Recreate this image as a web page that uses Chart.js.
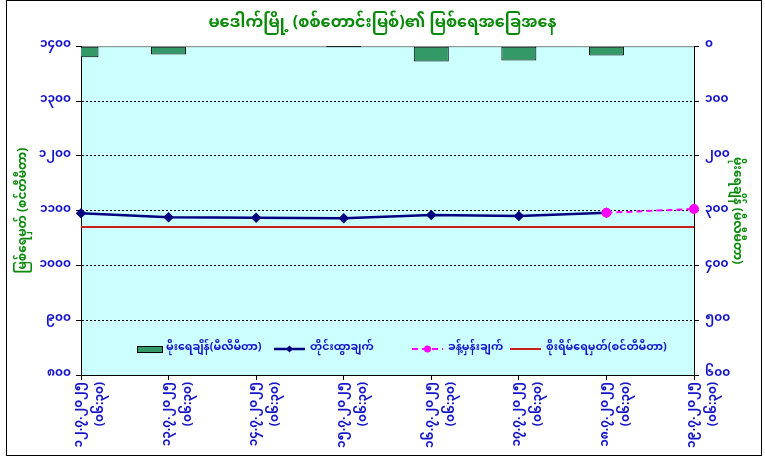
<!DOCTYPE html>
<html>
<head>
<meta charset="utf-8">
<script src="https://cdn.jsdelivr.net/npm/chart.js@4/dist/chart.umd.min.js"></script>
<style>
    html, body { margin: 0; padding: 0; background: #ffffff; }
    #wrap { position: relative; width: 765px; height: 462px; }
</style>
</head>
<body>
<div id="wrap"><canvas id="river_chart" width="765" height="462"></canvas></div>
<script>
// Dates of reading (day.month.year) and reading time
const dates = ["၁၂.၇.၂၀၂၅", "၁၃.၇.၂၀၂၅", "၁၄.၇.၂၀၂၅", "၁၅.၇.၂၀၂၅",
               "၁၆.၇.၂၀၂၅", "၁၇.၇.၂၀၂၅", "၁၈.၇.၂၀၂၅", "၁၉.၇.၂၀၂၅"];
const readTime = "(၀၆:၃၀)";

// Series (cm for water level, mm for rain)
const rainfall = [20, 15, null, 0, 28, 26, 17, null];
const measured = [1095, 1088, 1087, 1086, 1092, 1090, 1096, null];
const forecast = [null, null, null, null, null, null, 1096, 1103];
const dangerLevel = [1070, 1070, 1070, 1070, 1070, 1070, 1070, 1070];

const seriesNames = ["မိုးရေချိန်(မီလီမီတာ)", "တိုင်းထွာချက်", "ခန့်မှန်းချက်", "စိုးရိမ်ရေမှတ်(စင်တီမီတာ)"];
const chartTitle = "မဒေါက်မြို့ (စစ်တောင်းမြစ်)၏ မြစ်ရေအခြေအနေ";
const leftTitle = "မြစ်ရေမှတ် (စင်တီမီတာ)";
const rightTitle = "မိုးရေချိန် (မီလီမီတာ)";

const FONT = "'Noto Sans Myanmar', 'Padauk', 'Myanmar Text', 'Noto Sans', 'DejaVu Sans', sans-serif";
const tickBlue = "#1414c8";
const titleGreen = "#0a8a0a";

// legend item start positions (x, px) inside the plot
const legendStarts = [137, 274, 412, 510];

// western digits -> Myanmar digits
function toMyanmar(n) {
    const digits = "၀၁၂၃၄၅၆၇၈၉";
    return String(n).replace(/[0-9]/g, d => digits[+d]);
}

const labels = dates.map(d => [d, readTime]);

// light cyan plot area + grey top edge
const plotBackground = {
    id: "plotBackground",
    beforeDraw(chart) {
        const { ctx, chartArea: a } = chart;
        ctx.save();
        ctx.fillStyle = "#ccffff";
        ctx.fillRect(a.left, a.top, a.right - a.left, a.bottom - a.top);
        ctx.strokeStyle = "#808080";
        ctx.lineWidth = 1;
        ctx.beginPath();
        ctx.moveTo(a.left, a.top + 0.5);
        ctx.lineTo(a.right, a.top + 0.5);
        ctx.stroke();
        ctx.restore();
    }
};

// legend drawn inside the plot, like the Excel one
const insideLegend = {
    id: "insideLegend",
    afterDraw(chart) {
        const { ctx, chartArea: a } = chart;
        const ds = chart.data.datasets;
        const y = a.bottom - 26;
        ctx.save();
        ctx.font = "bold 11px " + FONT;
        ctx.textBaseline = "middle";
        ds.forEach((d, i) => {
            let x = legendStarts[i];
            if (d.type === "bar") {
                ctx.fillStyle = d.backgroundColor;
                ctx.fillRect(x, y - 3, 26, 7);
                ctx.strokeStyle = "#000";
                ctx.lineWidth = 1;
                ctx.strokeRect(x + 0.5, y - 2.5, 25, 6);
                x += 29;
            } else {
                ctx.strokeStyle = d.borderColor;
                ctx.lineWidth = d.borderWidth;
                ctx.setLineDash(d.borderDash || []);
                ctx.beginPath();
                ctx.moveTo(x, y);
                ctx.lineTo(x + 31, y);
                ctx.stroke();
                ctx.setLineDash([]);
                if (d.pointRadius > 0) {
                    ctx.fillStyle = d.borderColor;
                    ctx.beginPath();
                    if (d.pointStyle === "rectRot") {
                        ctx.moveTo(x + 15.5, y - 3.5);
                        ctx.lineTo(x + 19, y);
                        ctx.lineTo(x + 15.5, y + 3.5);
                        ctx.lineTo(x + 12, y);
                    } else {
                        ctx.arc(x + 15.5, y, 3.5, 0, Math.PI * 2);
                    }
                    ctx.fill();
                }
                x += 36;
            }
            ctx.fillStyle = tickBlue;
            ctx.fillText(d.label, x, y);
        });
        ctx.restore();
    }
};

// outer chart frame
const chartFrame = {
    id: "chartFrame",
    afterDraw(chart) {
        const ctx = chart.ctx;
        ctx.save();
        ctx.strokeStyle = "#000";
        ctx.lineWidth = 1;
        ctx.strokeRect(6.5, 0.5, 755, 455);
        ctx.restore();
    }
};

function drawRiverChart() {
    const ctx = document.getElementById("river_chart").getContext("2d");
    new Chart(ctx, {
        type: "bar",
        data: {
            labels: labels,
            datasets: [
                {
                    type: "bar",
                    label: seriesNames[0],
                    data: rainfall,
                    yAxisID: "y1",
                    backgroundColor: "#339966",
                    borderColor: "#000000",
                    borderWidth: 1,
                    borderSkipped: false,
                    barPercentage: 0.4,
                    categoryPercentage: 1.0,
                    minBarLength: 2,
                    order: 3
                },
                {
                    type: "line",
                    label: seriesNames[1],
                    data: measured,
                    yAxisID: "y",
                    borderColor: "#000080",
                    backgroundColor: "#000080",
                    borderWidth: 2.5,
                    pointStyle: "rectRot",
                    pointRadius: 3.5,
                    tension: 0,
                    order: 1
                },
                {
                    type: "line",
                    label: seriesNames[2],
                    data: forecast,
                    yAxisID: "y",
                    borderColor: "#ff00ff",
                    backgroundColor: "#ff00ff",
                    borderWidth: 2,
                    borderDash: [6, 4],
                    pointStyle: "circle",
                    pointRadius: 4,
                    order: 0
                },
                {
                    type: "line",
                    label: seriesNames[3],
                    data: dangerLevel,
                    yAxisID: "y",
                    borderColor: "#cc2020",
                    borderWidth: 2,
                    pointRadius: 0,
                    order: 2
                }
            ]
        },
        options: {
            responsive: false,
            animation: false,
            layout: { padding: 0 },
            plugins: {
                legend: { display: false },
                tooltip: { enabled: false },
                title: {
                    display: true,
                    text: chartTitle,
                    color: titleGreen,
                    font: { family: FONT, size: 16, weight: "bold" },
                    padding: { top: 16, bottom: 11 }
                }
            },
            scales: {
                x: {
                    offset: false,
                    grid: { offset: false, drawOnChartArea: false, drawTicks: true, tickLength: 5, tickColor: "#000" },
                    border: { display: true, color: "#000", width: 1 },
                    ticks: {
                        color: tickBlue,
                        font: { family: FONT, size: 12, weight: "bold", lineHeight: 1.75 },
                        maxRotation: 90,
                        minRotation: 90,
                        autoSkip: false,
                        padding: 2
                    },
                    afterFit: s => { s.height = 87; }
                },
                y: {
                    position: "left",
                    min: 800,
                    max: 1400,
                    ticks: {
                        stepSize: 100,
                        color: tickBlue,
                        font: { family: FONT, size: 12, weight: "bold" },
                        padding: 5,
                        callback: v => toMyanmar(v)
                    },
                    grid: {
                        color: c => (c.tick && (c.tick.value === 1400 || c.tick.value === 800)) ? "rgba(0,0,0,0)" : "#000",
                        tickColor: "#000",
                        tickLength: 5,
                        lineWidth: 1
                    },
                    border: { display: true, color: "#000", width: 1, dash: [2, 2] },
                    title: {
                        display: true,
                        text: leftTitle,
                        color: titleGreen,
                        font: { family: FONT, size: 12, weight: "bold" },
                        padding: { top: 18, bottom: 0 }
                    },
                    afterFit: s => { s.width = 81; }
                },
                y1: {
                    position: "right",
                    min: 0,
                    max: 600,
                    reverse: true,
                    ticks: {
                        stepSize: 100,
                        color: tickBlue,
                        font: { family: FONT, size: 12, weight: "bold" },
                        padding: 6,
                        callback: v => toMyanmar(v)
                    },
                    grid: { drawOnChartArea: false, tickColor: "#000", tickLength: 5 },
                    border: { display: true, color: "#000", width: 1 },
                    title: {
                        display: true,
                        text: rightTitle,
                        color: titleGreen,
                        font: { family: FONT, size: 12, weight: "bold" },
                        padding: { top: 23, bottom: 0 }
                    },
                    afterFit: s => { s.width = 71; }
                }
            }
        },
        plugins: [plotBackground, insideLegend, chartFrame]
    });
}

drawRiverChart();
</script>
</body>
</html>
